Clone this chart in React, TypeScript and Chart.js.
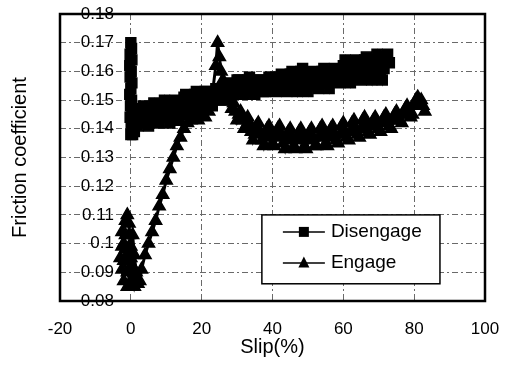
import React, { useEffect, useRef } from 'react';
import { Chart, registerables } from 'chart.js';

Chart.register(...registerables);

// Disengage run: friction coefficient against slip (%)
const disengageSlip = [
  0, 0.2, -0.2, 0.3, -0.3, 0.1, -0.2, 0.3, 0, -0.3, 0.2, -0.1, 0.3, -0.2, 0.1, 0.4, 0, 0.5, 1,
  2, 2.5, 3, 3.5, 4, 4.5, 5, 5.5, 6, 6.5, 7, 7.5, 8, 8.5, 9, 9.5, 10, 10.5,
  11, 11.5, 12, 12.5, 13, 13.5, 14, 14.5, 15, 15.5, 16, 16.5, 17, 17.5, 18, 18.5, 19, 19.5,
  20, 20.5, 21, 21.5, 22, 22.5, 23, 23.5, 24, 24.5, 25, 25.5, 26, 26.5, 27, 27.5, 28, 28.5,
  29, 29.5, 30, 30.5, 31, 31.5, 32, 32.5, 33, 33.5, 34, 34.5, 35, 35.5, 36, 36.5, 37, 37.5,
  38, 38.5, 39, 39.5, 40, 40.5, 41, 41.5, 42, 42.5, 43, 43.5, 44, 44.5, 45, 45.5, 46, 46.5,
  47, 47.5, 48, 48.5, 49, 49.5, 50, 50.5, 51, 51.5, 52, 52.5, 53, 53.5, 54, 54.5, 55, 55.5,
  56, 56.5, 57, 57.5, 58, 58.5, 59, 59.5, 60, 60.5, 61, 61.5, 62, 62.5, 63, 63.5, 64, 64.5,
  65, 65.5, 66, 66.5, 67, 67.5, 68, 68.5, 69, 69.5, 70, 70.5, 71, 71.5, 72, 72.5, 73,
];
const disengageFriction = [
  0.170, 0.168, 0.166, 0.164, 0.162, 0.160, 0.158, 0.156, 0.154, 0.152, 0.150, 0.148, 0.146, 0.144, 0.142, 0.140, 0.138, 0.138, 0.139,
  0.141, 0.144, 0.147, 0.148, 0.145, 0.142, 0.141, 0.144, 0.147, 0.149, 0.146, 0.143, 0.142, 0.145, 0.148, 0.150, 0.147, 0.144,
  0.142, 0.145, 0.149, 0.150, 0.146, 0.143, 0.145, 0.148, 0.151, 0.152, 0.149, 0.146, 0.145, 0.149, 0.152, 0.153, 0.150, 0.147,
  0.148, 0.150, 0.153, 0.153, 0.151, 0.149, 0.148, 0.151, 0.154, 0.154, 0.152, 0.150, 0.150, 0.152, 0.155, 0.156, 0.154, 0.152,
  0.152, 0.154, 0.157, 0.157, 0.155, 0.153, 0.152, 0.155, 0.157, 0.158, 0.155, 0.153, 0.152, 0.155, 0.157, 0.157, 0.155, 0.153,
  0.153, 0.155, 0.158, 0.158, 0.156, 0.154, 0.153, 0.156, 0.158, 0.159, 0.156, 0.154, 0.153, 0.156, 0.159, 0.160, 0.157, 0.155,
  0.153, 0.157, 0.160, 0.161, 0.158, 0.155, 0.153, 0.156, 0.159, 0.160, 0.158, 0.155, 0.154, 0.157, 0.160, 0.161, 0.158, 0.156,
  0.154, 0.157, 0.160, 0.161, 0.159, 0.157, 0.156, 0.159, 0.162, 0.164, 0.161, 0.158, 0.156, 0.159, 0.163, 0.164, 0.161, 0.158,
  0.157, 0.160, 0.164, 0.165, 0.162, 0.159, 0.157, 0.161, 0.164, 0.166, 0.163, 0.159, 0.157, 0.161, 0.165, 0.166, 0.163,
];

// Engage run: friction coefficient against slip (%)
const engageSlip = [
  -1, -2, -2.5, -1.5, -1, -0.5, -0.5, -1.5, -2.5, -3, -2.5, -2, -1, 0, -1, -2, -1.5, -0.5, 0, -0.5,
  0.5, 1, 1.5, 0.5, 0, 0.5, 1, 1.5, 2, 2.5,
  3, 4, 5, 6, 7, 8, 9, 10, 11, 12, 13, 14, 15, 16, 17, 18, 19, 20, 21, 22, 23,
  24, 24.5, 25, 25.5, 26, 26.5, 27, 27.5,
  28, 28.5, 29, 29.5, 30, 30.5, 31, 31.5, 32, 32.5, 33, 33.5, 34, 34.5, 35, 35.5, 36, 36.5,
  37, 37.5, 38, 38.5, 39, 39.5, 40, 40.5, 41, 41.5, 42, 42.5, 43, 43.5, 44, 44.5, 45, 45.5,
  46, 46.5, 47, 47.5, 48, 48.5, 49, 49.5, 50, 50.5, 51, 51.5, 52, 52.5, 53, 53.5, 54, 54.5,
  55, 55.5, 56, 56.5, 57, 57.5, 58, 58.5, 59, 59.5, 60, 60.5, 61, 61.5, 62, 62.5, 63, 63.5,
  64, 64.5, 65, 65.5, 66, 66.5, 67, 67.5, 68, 68.5, 69, 69.5, 70, 70.5, 71, 71.5, 72, 72.5,
  73, 73.5, 74, 74.5, 75, 75.5, 76, 76.5, 77, 77.5, 78, 78.5, 79, 79.5, 80, 80.5, 81, 81.5,
  82, 82.5, 83,
];
const engageFriction = [
  0.095, 0.100, 0.104, 0.108, 0.110, 0.107, 0.103, 0.103, 0.099, 0.095, 0.091, 0.087, 0.085, 0.086, 0.090, 0.094, 0.098, 0.099, 0.095, 0.091,
  0.088, 0.085, 0.087, 0.092, 0.099, 0.103, 0.096, 0.090, 0.086, 0.087,
  0.091, 0.096, 0.100, 0.104, 0.108, 0.113, 0.117, 0.122, 0.126, 0.130, 0.134, 0.137, 0.140, 0.142, 0.143, 0.144, 0.143, 0.145, 0.144, 0.146, 0.152,
  0.162, 0.170, 0.165, 0.160, 0.157, 0.154, 0.152, 0.151,
  0.150, 0.147, 0.149, 0.146, 0.143, 0.145, 0.146, 0.143, 0.140, 0.141, 0.144, 0.142, 0.139, 0.136, 0.138, 0.141, 0.142, 0.139,
  0.136, 0.134, 0.137, 0.140, 0.141, 0.138, 0.135, 0.134, 0.137, 0.140, 0.141, 0.138, 0.135, 0.133, 0.136, 0.139, 0.140, 0.137,
  0.134, 0.133, 0.136, 0.139, 0.140, 0.137, 0.134, 0.133, 0.136, 0.139, 0.140, 0.137, 0.134, 0.134, 0.137, 0.140, 0.141, 0.138,
  0.135, 0.134, 0.137, 0.140, 0.141, 0.138, 0.136, 0.135, 0.138, 0.141, 0.142, 0.139, 0.137, 0.136, 0.139, 0.142, 0.143, 0.140,
  0.138, 0.137, 0.140, 0.143, 0.144, 0.141, 0.139, 0.138, 0.141, 0.143, 0.144, 0.141, 0.140, 0.139, 0.142, 0.144, 0.145, 0.142,
  0.141, 0.140, 0.143, 0.145, 0.146, 0.143, 0.143, 0.142, 0.145, 0.147, 0.148, 0.145, 0.144, 0.145, 0.148, 0.150, 0.151, 0.149,
  0.150, 0.148, 0.146,
];

const seriesNames = ['Disengage', 'Engage'];
const xTitle = 'Slip(%)';
const yTitle = 'Friction coefficient';
// Slip value where the friction tick labels end (just left of 0)
const yLabelAnchorSlip = -4.8;

const FONT = '"Liberation Sans", Arial, Helvetica, sans-serif';

// Boxed legend drawn inside the plot area, lower right
const boxedLegend = {
  id: 'boxedLegend',
  afterDatasetsDraw(chart: any) {
    const { ctx, chartArea } = chart;
    const w = chartArea.right - chartArea.left;
    const h = chartArea.bottom - chartArea.top;
    const x0 = chartArea.left + w * 0.475;
    const x1 = chartArea.left + w * 0.894;
    const y0 = chartArea.top + h * 0.70;
    const y1 = chartArea.top + h * 0.94;
    ctx.save();
    ctx.fillStyle = '#fff';
    ctx.fillRect(x0, y0, x1 - x0, y1 - y0);
    ctx.lineWidth = 1.5;
    ctx.strokeStyle = '#000';
    ctx.strokeRect(x0, y0, x1 - x0, y1 - y0);
    const rows = [y0 + 17, y0 + 48];
    chart.data.datasets.forEach((ds: any, i: number) => {
      const cy = rows[i];
      const lx0 = x0 + 21;
      const lx1 = x0 + 63;
      const mx = (lx0 + lx1) / 2;
      ctx.strokeStyle = '#000';
      ctx.lineWidth = 1.5;
      ctx.beginPath();
      ctx.moveTo(lx0, cy);
      ctx.lineTo(lx1, cy);
      ctx.stroke();
      ctx.fillStyle = '#000';
      ctx.beginPath();
      if (ds.pointStyle === 'rect') {
        ctx.rect(mx - 5, cy - 5, 10, 10);
      } else {
        ctx.moveTo(mx, cy - 6.5);
        ctx.lineTo(mx + 5.5, cy + 4.5);
        ctx.lineTo(mx - 5.5, cy + 4.5);
        ctx.closePath();
      }
      ctx.fill();
      ctx.font = `19px ${FONT}`;
      ctx.textBaseline = 'middle';
      ctx.textAlign = 'left';
      ctx.fillText(ds.label, lx1 + 6, cy);
    });
    ctx.restore();
  },
};

// Heavy frame around the plot area
const plotFrame = {
  id: 'plotFrame',
  beforeDatasetsDraw(chart: any) {
    const { ctx, chartArea } = chart;
    ctx.save();
    ctx.lineWidth = 2.5;
    ctx.strokeStyle = '#000';
    ctx.strokeRect(chartArea.left, chartArea.top, chartArea.right - chartArea.left, chartArea.bottom - chartArea.top);
    ctx.restore();
  },
};

export default function App() {
  const canvasRef = useRef<HTMLCanvasElement | null>(null);

  useEffect(() => {
    const canvas = canvasRef.current;
    if (!canvas) return;
    const toPoints = (xs: number[], ys: number[]) => xs.map((x, i) => ({ x, y: ys[i] }));
    const gridDash = [6, 3, 2, 3];
    const markStyle = {
      showLine: true,
      borderColor: '#000',
      backgroundColor: '#000',
      borderWidth: 3,
      pointBackgroundColor: '#000',
      pointBorderColor: '#000',
      pointBorderWidth: 1.5,
    };
    const chart = new Chart(canvas, {
      type: 'scatter',
      data: {
        datasets: [
          {
            ...markStyle,
            label: seriesNames[0],
            data: toPoints(disengageSlip, disengageFriction),
            pointStyle: 'rect',
            pointRadius: 7,
          },
          {
            ...markStyle,
            label: seriesNames[1],
            data: toPoints(engageSlip, engageFriction),
            pointStyle: 'triangle',
            pointRadius: 7,
          },
        ],
      },
      options: {
        responsive: false,
        animation: false,
        layout: { padding: { left: 8, right: 22, top: 14, bottom: 6 } },
        plugins: { legend: { display: false }, tooltip: { enabled: false } },
        scales: {
          x: {
            type: 'linear',
            position: 'bottom',
            min: -20,
            max: 100,
            ticks: { stepSize: 20, color: '#000', font: { family: FONT, size: 17 }, padding: 0 },
            grid: { color: '#6a6a6a', lineWidth: 1, drawTicks: true, tickLength: 18, tickWidth: 0 },
            border: { display: false, dash: gridDash },
            title: { display: true, text: xTitle, color: '#000', font: { family: FONT, size: 20 }, padding: { top: -4.4, bottom: 0 } },
          },
          y: {
            type: 'linear',
            position: { x: yLabelAnchorSlip },
            min: 0.08,
            max: 0.18,
            ticks: {
              stepSize: 0.01,
              color: '#000',
              font: { family: FONT, size: 17 },
              padding: 0,
              callback: (v: any) => String(+Number(v).toFixed(2)),
            },
            grid: { color: '#6a6a6a', lineWidth: 1, drawTicks: false },
            border: { display: false, dash: gridDash },
          },
          yTitle: {
            type: 'linear',
            position: 'left',
            min: 0.08,
            max: 0.18,
            ticks: { display: false },
            grid: { display: false, drawTicks: false },
            border: { display: false },
            title: { display: true, text: yTitle, color: '#000', font: { family: FONT, size: 20 }, padding: { top: 0, bottom: 28 } },
          },
        },
      },
      plugins: [plotFrame, boxedLegend],
    });
    return () => chart.destroy();
  }, []);

  return (
    <div style={{ position: 'absolute', left: 0, top: 0, width: 507, height: 365, background: '#fff' }}>
      <canvas ref={canvasRef} width={507} height={365} />
    </div>
  );
}
